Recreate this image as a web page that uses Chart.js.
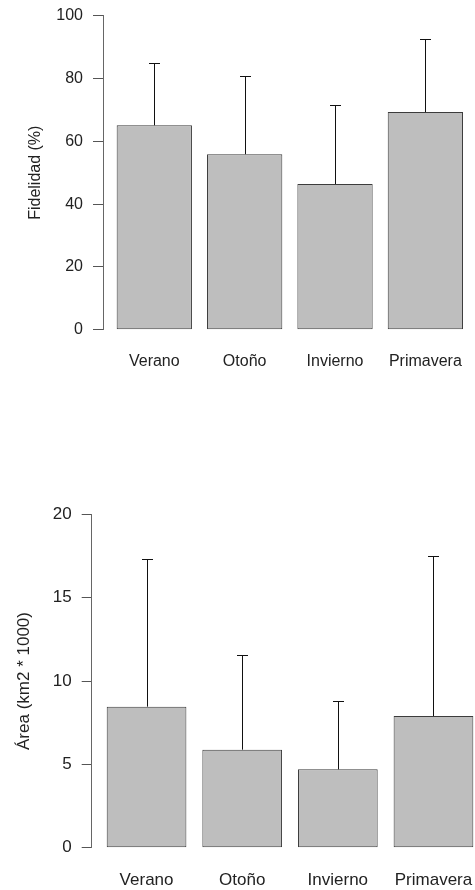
<!DOCTYPE html>
<html>
<head>
<meta charset="utf-8">
<script src="https://cdn.jsdelivr.net/npm/chart.js@4.4.1/dist/chart.umd.min.js"></script>
<style>
  html, body { margin: 0; padding: 0; background: #fff; }
  body { width: 475px; height: 890px; position: relative; overflow: hidden; }
  .panel { position: absolute; left: 0; width: 475px; height: 445px; }
</style>
</head>
<body>
<div class="panel" style="top:0"><canvas id="fidelidad" width="475" height="445"></canvas></div>
<div class="panel" style="top:445px"><canvas id="area" width="475" height="445"></canvas></div>
<script>
// Seasons and the per-season summaries (mean and standard deviation)
const seasons = ['Verano', 'Otoño', 'Invierno', 'Primavera'];

const fidelidadMean = [65.1, 55.9, 46.4, 69.3];
const fidelidadSd   = [19.9, 25.0, 25.2, 23.2];
const fidelidadTicks = [0, 20, 40, 60, 80, 100];

const areaMean = [8.46, 5.88, 4.70, 7.90];
const areaSd   = [8.86, 5.66, 4.12, 9.60];
const areaTicks = [0, 5, 10, 15, 20];

// Bar centres in barplot units (bar width 1, gap 0.2)
const barCentres = seasons.map((_, i) => 0.7 + 1.2 * i);

const FONT = 'Liberation Sans, Arial, Helvetica, sans-serif';
const TEXT = '#222';

// Upward error bar (mean + sd) with a flat cap
const errorBars = {
  id: 'errorBars',
  afterDatasetsDraw(chart) {
    const ds = chart.data.datasets[0];
    const meta = chart.getDatasetMeta(0);
    const yScale = chart.scales.y;
    const ctx = chart.ctx;
    const cap = ds.capWidth;
    ctx.save();
    ctx.strokeStyle = '#111';
    ctx.lineWidth = 1;
    meta.data.forEach((bar, i) => {
      const v = ds.data[i].y + ds.sd[i];
      const x = Math.round(bar.x) + 0.5;
      const yTop = Math.round(yScale.getPixelForValue(v)) + 0.5;
      ctx.beginPath();
      ctx.moveTo(x, bar.y);
      ctx.lineTo(x, yTop);
      ctx.moveTo(x - cap / 2, yTop);
      ctx.lineTo(x + cap / 2, yTop);
      ctx.stroke();
    });
    ctx.restore();
  }
};

function seasonChart(id, means, sds, ticks, title, L) {
  return new Chart(document.getElementById(id), {
    type: 'bar',
    data: {
      datasets: [{
        data: seasons.map((s, i) => ({ x: barCentres[i], y: means[i] })),
        sd: sds,
        capWidth: L.cap,
        backgroundColor: '#bebebe',
        borderColor: '#3c3c3c',
        borderWidth: 1,
        borderSkipped: false,
        barPercentage: 1 / 1.2,
        categoryPercentage: 1
      }]
    },
    options: {
      responsive: false,
      animation: false,
      layout: { padding: { top: L.top, left: 0, right: 0, bottom: 0 } },
      plugins: { legend: { display: false }, tooltip: { enabled: false } },
      scales: {
        x: {
          type: 'linear',
          min: L.xMin,
          max: L.xMax,
          offset: false,
          bounds: 'data',
          afterBuildTicks: s => { s.ticks = barCentres.map(v => ({ value: v })); },
          afterFit: s => {
            s.height = L.xHeight;
            s.paddingLeft = 0;
            s.paddingRight = 0;
          },
          grid: { display: false, drawTicks: false },
          border: { display: false },
          ticks: {
            autoSkip: false,
            maxRotation: 0,
            minRotation: 0,
            padding: L.xPad,
            color: TEXT,
            font: { family: FONT, size: L.font },
            callback: (v, i) => seasons[i]
          }
        },
        y: {
          min: ticks[0],
          max: ticks[ticks.length - 1],
          afterBuildTicks: s => { s.ticks = ticks.map(v => ({ value: v })); },
          afterFit: s => {
            s.width = L.yWidth;
            s.paddingTop = 0;
            s.paddingBottom = 0;
          },
          grid: { drawOnChartArea: false, drawTicks: true, tickLength: 10, color: '#555', lineWidth: 1 },
          border: { display: true, color: '#666', width: 1 },
          ticks: { padding: 10, color: TEXT, font: { family: FONT, size: L.font } },
          title: {
            display: true,
            text: title,
            color: TEXT,
            font: { family: FONT, size: L.font },
            padding: { top: L.titlePad, bottom: 0 }
          }
        }
      }
    },
    plugins: [errorBars]
  });
}

seasonChart('fidelidad', fidelidadMean, fidelidadSd, fidelidadTicks, 'Fidelidad (%)',
  { top: 15.7, xHeight: 115.3, yWidth: 103, xMin: 0.0186, xMax: 4.959, xPad: 22.2, font: 16, titlePad: 26, cap: 11 });

seasonChart('area', areaMean, areaSd, areaTicks, 'Área (km2 * 1000)',
  { top: 69.3, xHeight: 42.3, yWidth: 91.7, xMin: 0.0118, xMax: 4.821, xPad: 22.4, font: 17, titlePad: 14.3, cap: 11 });
</script>
</body>
</html>
